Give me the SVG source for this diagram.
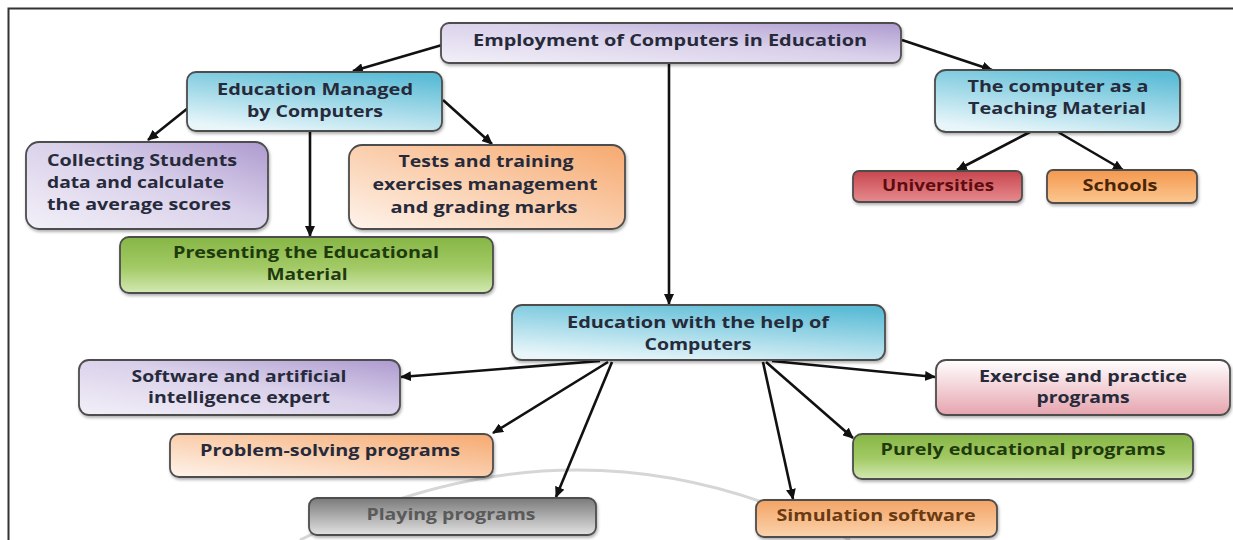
<svg xmlns="http://www.w3.org/2000/svg" width="1233" height="540" viewBox="0 0 1233 540">
<defs>
<linearGradient id="gPurple" x1="0" y1="1" x2="1" y2="0"><stop offset="0" stop-color="#f3f0f8"/><stop offset="0.55" stop-color="#d9d0ea"/><stop offset="1" stop-color="#ad9acf"/></linearGradient>
<linearGradient id="gBlue" x1="0.75" y1="0" x2="0.3" y2="1"><stop offset="0" stop-color="#5bbcd6"/><stop offset="1" stop-color="#e8f6fa"/></linearGradient>
<linearGradient id="gOrange" x1="1" y1="0" x2="0" y2="1"><stop offset="0" stop-color="#f6a96f"/><stop offset="1" stop-color="#fef4ec"/></linearGradient>
<linearGradient id="gGreen" x1="0" y1="0" x2="0" y2="1"><stop offset="0" stop-color="#86b646"/><stop offset="0.55" stop-color="#a3ca66"/><stop offset="1" stop-color="#d3e9b2"/></linearGradient>
<linearGradient id="gPink" x1="0" y1="0" x2="0" y2="1"><stop offset="0" stop-color="#ffffff"/><stop offset="1" stop-color="#e6a4ae"/></linearGradient>
<linearGradient id="gRed" x1="0" y1="0" x2="0" y2="1"><stop offset="0" stop-color="#c8464e"/><stop offset="1" stop-color="#e68b8e"/></linearGradient>
<linearGradient id="gSchool" x1="0" y1="0" x2="0" y2="1"><stop offset="0" stop-color="#f4974f"/><stop offset="1" stop-color="#fbc890"/></linearGradient>
<linearGradient id="gGray" x1="0" y1="0" x2="0" y2="1"><stop offset="0" stop-color="#7a7a7a"/><stop offset="1" stop-color="#e2e2e2"/></linearGradient>
<linearGradient id="gSim" x1="0" y1="0" x2="0" y2="1"><stop offset="0" stop-color="#f3a465"/><stop offset="1" stop-color="#fbd3ad"/></linearGradient>
<filter id="sh" x="-5%" y="-10%" width="110%" height="130%"><feDropShadow dx="1" dy="2" stdDeviation="1.5" flood-color="#000" flood-opacity="0.3"/></filter>
<marker id="ah" markerUnits="userSpaceOnUse" markerWidth="11" markerHeight="10" refX="10" refY="5" orient="auto"><path d="M0,0 L11,5 L0,10 z" fill="#111"/></marker>
</defs>
<style>
.n rect{stroke:#4d4d4d;stroke-width:1.8;filter:url(#sh)}
text{font-family:"Open Sans","Liberation Sans",sans-serif;font-weight:bold;font-size:16px;fill:#262a3a;text-anchor:middle}
.c line{stroke:#111;stroke-width:2.6;marker-end:url(#ah)}
</style>
<rect width="1233" height="540" fill="#ffffff"/>
<path d="M8.5,540 V8.5 H1233" fill="none" stroke="#333" stroke-width="2"/>
<path d="M300,540 Q580,400 850,540" fill="none" stroke="#d6d6d6" stroke-width="3"/>

<g class="c" id="connectors">
<line x1="442" y1="45" x2="353" y2="71"/>
<line x1="902" y1="40" x2="992" y2="70"/>
<line x1="669" y1="63" x2="669" y2="304"/>
<line x1="188" y1="108" x2="148" y2="140"/>
<line x1="310" y1="131" x2="310" y2="236"/>
<line x1="443" y1="100" x2="492" y2="144"/>
<line x1="1030" y1="132" x2="957" y2="170"/>
<line x1="1058" y1="132" x2="1123" y2="170"/>
<line x1="600" y1="361" x2="401" y2="377"/>
<line x1="608" y1="362" x2="493" y2="433"/>
<line x1="612" y1="362" x2="556" y2="497"/>
<line x1="763" y1="362" x2="793" y2="499"/>
<line x1="766" y1="362" x2="853" y2="438"/>
<line x1="772" y1="361" x2="935" y2="377"/>
</g>

<g class="n" id="employment"><rect x="441" y="23" width="460" height="40" rx="8" fill="url(#gPurple)"/><text x="670" y="46" textLength="394" lengthAdjust="spacingAndGlyphs">Employment of Computers in Education</text></g>

<g class="n" id="managed"><rect x="187" y="72" width="255" height="59" rx="9" fill="url(#gBlue)"/><text x="315" y="95" textLength="196" lengthAdjust="spacingAndGlyphs">Education Managed</text><text x="315" y="117" textLength="136" lengthAdjust="spacingAndGlyphs">by Computers</text></g>

<g class="n" id="collecting"><rect x="26" y="142" width="242" height="87" rx="13" fill="url(#gPurple)"/><text x="142" y="166" textLength="190" lengthAdjust="spacingAndGlyphs">Collecting Students</text><text x="135.5" y="188" textLength="177" lengthAdjust="spacingAndGlyphs">data and calculate</text><text x="139" y="210" textLength="184" lengthAdjust="spacingAndGlyphs">the average scores</text></g>

<g class="n" id="tests"><rect x="349" y="145" width="276" height="84" rx="13" fill="url(#gOrange)"/><text x="486" y="167" textLength="175" lengthAdjust="spacingAndGlyphs">Tests and training</text><text x="485" y="190" textLength="225" lengthAdjust="spacingAndGlyphs">exercises  management</text><text x="484" y="213" textLength="187" lengthAdjust="spacingAndGlyphs">and grading marks</text></g>

<g class="n" id="presenting"><rect x="120" y="237" width="373" height="56" rx="9" fill="url(#gGreen)"/><text x="306" y="258" textLength="266" lengthAdjust="spacingAndGlyphs" style="fill:#1f3a0c">Presenting the Educational</text><text x="307" y="280" textLength="81" lengthAdjust="spacingAndGlyphs" style="fill:#1f3a0c">Material</text></g>

<g class="n" id="teaching"><rect x="935" y="70" width="245" height="62" rx="11" fill="url(#gBlue)"/><text x="1058" y="92" textLength="181" lengthAdjust="spacingAndGlyphs">The computer as a</text><text x="1057" y="114" textLength="178" lengthAdjust="spacingAndGlyphs">Teaching Material</text></g>

<g class="n" id="universities"><rect x="853" y="171" width="169" height="31" rx="6" fill="url(#gRed)"/><text x="938" y="191" textLength="112" lengthAdjust="spacingAndGlyphs" style="fill:#5e0c10">Universities</text></g>

<g class="n" id="schools"><rect x="1047" y="170" width="150" height="33" rx="6" fill="url(#gSchool)"/><text x="1120" y="191" textLength="75" lengthAdjust="spacingAndGlyphs" style="fill:#4a2606">Schools</text></g>

<g class="n" id="withhelp"><rect x="512" y="305" width="373" height="55" rx="10" fill="url(#gBlue)"/><text x="698" y="328" textLength="262" lengthAdjust="spacingAndGlyphs">Education with the help of</text><text x="698" y="350" textLength="107" lengthAdjust="spacingAndGlyphs">Computers</text></g>

<g class="n" id="software"><rect x="79" y="360" width="321" height="55" rx="10" fill="url(#gPurple)"/><text x="239" y="382" textLength="215" lengthAdjust="spacingAndGlyphs">Software and artificial</text><text x="239" y="403" textLength="182" lengthAdjust="spacingAndGlyphs">intelligence  expert</text></g>

<g class="n" id="exercise"><rect x="936" y="360" width="294" height="55" rx="10" fill="url(#gPink)"/><text x="1083" y="382" textLength="208" lengthAdjust="spacingAndGlyphs">Exercise  and practice</text><text x="1083" y="403" textLength="93" lengthAdjust="spacingAndGlyphs">programs</text></g>

<g class="n" id="problem"><rect x="170" y="434" width="323" height="43" rx="9" fill="url(#gOrange)"/><text x="330" y="456" textLength="260" lengthAdjust="spacingAndGlyphs">Problem-solving  programs</text></g>

<g class="n" id="purely"><rect x="853" y="434" width="340" height="45" rx="9" fill="url(#gGreen)"/><text x="1023" y="455" textLength="285" lengthAdjust="spacingAndGlyphs" style="fill:#1f3a0c">Purely educational programs</text></g>

<g class="n" id="playing"><rect x="309" y="498" width="287" height="37" rx="8" fill="url(#gGray)"/><text x="451" y="520" textLength="169" lengthAdjust="spacingAndGlyphs" style="fill:#5a5a5a">Playing programs</text></g>

<g class="n" id="simulation"><rect x="756" y="500" width="241" height="37" rx="8" fill="url(#gSim)"/><text x="876" y="521" textLength="199" lengthAdjust="spacingAndGlyphs" style="fill:#6a3a12">Simulation  software</text></g>
</svg>
